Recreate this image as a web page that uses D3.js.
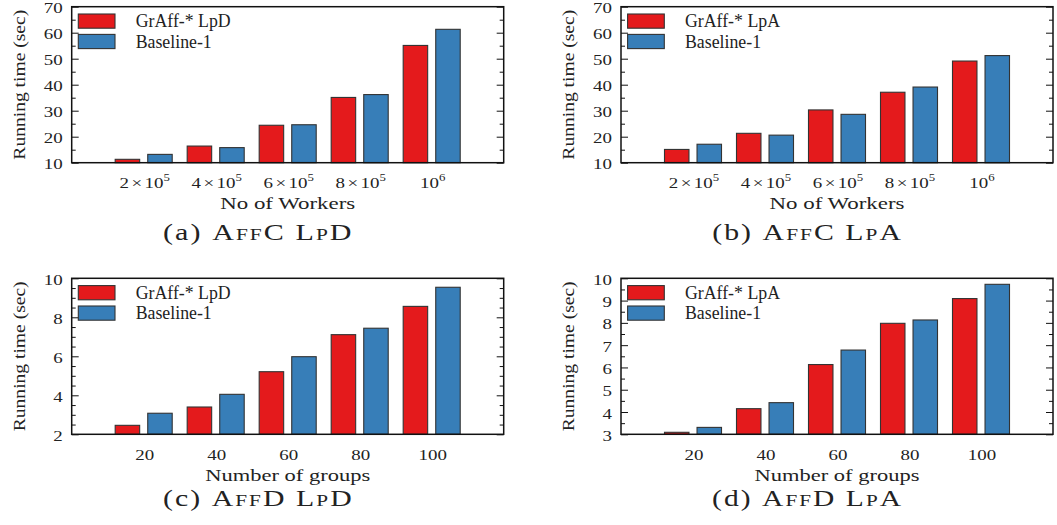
<!DOCTYPE html>
<html>
<head>
<meta charset="utf-8">
<script src="https://cdn.jsdelivr.net/npm/d3@7/dist/d3.min.js"></script>
<style>
body { margin: 0; background: #fff; }
svg { display: block; }
text { font-family: "Liberation Serif", "Times New Roman", serif; fill: #222; }
</style>
</head>
<body>
<div id="fig"></div>
<script>
// x categories (tick labels)
var workerBase = ["2×10", "4×10", "6×10", "8×10", "10"];
var workerExp = ["5", "5", "5", "5", "6"];
var groupLabels = ["20", "40", "60", "80", "100"];

// series values
var affcLpdGraff = [11.3, 16.4, 24.4, 35.1, 55.1];
var affcLpdBase = [13.2, 15.8, 24.6, 36.2, 61.3];
var affcLpaGraff = [15.1, 21.3, 30.3, 37.1, 49.1];
var affcLpaBase = [17.1, 20.6, 28.6, 39.1, 51.2];
var affdLpdGraff = [2.46, 3.40, 5.21, 7.11, 8.56];
var affdLpdBase = [3.08, 4.05, 5.98, 7.44, 9.54];
var affdLpaGraff = [3.09, 4.15, 6.13, 7.98, 9.09];
var affdLpaBase = [3.31, 4.42, 6.78, 8.13, 9.73];

// y tick values
var ticksAffc = [10, 20, 30, 40, 50, 60, 70];
var minorAffc = [15, 25, 35, 45, 55, 65];
var ticksAffdLpd = [2, 4, 6, 8, 10];
var minorAffdLpd = [2.5, 3, 3.5, 4.5, 5, 5.5, 6.5, 7, 7.5, 8.5, 9, 9.5];
var ticksAffdLpa = [3, 4, 5, 6, 7, 8, 9, 10];
var minorAffdLpa = [3.5, 4.5, 5.5, 6.5, 7.5, 8.5, 9.5];

var legendNames = ["GrAff-* LpD", "Baseline-1"];
var legendNamesA = ["GrAff-* LpA", "Baseline-1"];

var w = 1057, h = 525;
var red = "#e41a1c", blue = "#377eb8";
var pw = 432, ph = 156;

var svg = d3.select("#fig").append("svg")
    .attr("width", w)
    .attr("height", h);

// stretch a text horizontally so it fills a given width
function fitText(t, x, y, target, rot) {
    var len = t.node().getBBox().width;
    var s = target / len;
    t.attr("transform", "translate(" + x + "," + y + ")" + (rot ? " rotate(-90)" : "") + " scale(" + s + ",1)");
}

function panel(opt) {
    var g = svg.append("g").attr("transform", "translate(" + opt.left + "," + opt.top + ")");

    var x = d3.scaleLinear().domain([0, 6]).range([0, pw]);
    var y = d3.scaleLinear().domain(opt.ydom).range([ph, 0]);

    // bars
    var half = 0.396, gap = 0.056;
    g.selectAll(".r").data(opt.s1).enter().append("rect")
        .attr("x", function(d, i) { return x(i + 1 - half); })
        .attr("width", function(d, i) { return x(i + 1 - gap) - x(i + 1 - half); })
        .attr("y", function(d) { return y(d); })
        .attr("height", function(d) { return ph - y(d); })
        .style("fill", red).style("stroke", "#333").style("stroke-width", 1.1);
    g.selectAll(".b").data(opt.s2).enter().append("rect")
        .attr("x", function(d, i) { return x(i + 1 + gap); })
        .attr("width", function(d, i) { return x(i + 1 + half) - x(i + 1 + gap); })
        .attr("y", function(d) { return y(d); })
        .attr("height", function(d) { return ph - y(d); })
        .style("fill", blue).style("stroke", "#333").style("stroke-width", 1.1);

    // ticks, inward on left and right
    function ticks(gen, vals, size) {
        var a = g.append("g").call(gen.tickValues(vals).tickSize(-size).tickFormat(""));
        a.select(".domain").remove();
        a.selectAll("line").style("stroke", "#111").style("stroke-width", 1);
        return a;
    }
    ticks(d3.axisLeft(y), opt.major, 7);
    ticks(d3.axisLeft(y), opt.minor, 4);
    ticks(d3.axisRight(y), opt.major, 7).attr("transform", "translate(" + pw + ",0)");
    ticks(d3.axisRight(y), opt.minor, 4).attr("transform", "translate(" + pw + ",0)");

    // frame
    g.append("rect").attr("width", pw).attr("height", ph)
        .style("fill", "none").style("stroke", "#111").style("stroke-width", 1.5);

    // y tick labels
    opt.major.forEach(function(v) {
        g.append("text").text(v)
            .style("font-size", "15.5px").style("text-anchor", "end")
            .attr("transform", "translate(-9," + (y(v) + 6.6) + ") scale(1.22,1)");
    });

    // x tick labels
    opt.xlab.forEach(function(l, i) {
        var t = g.append("text").style("font-size", "15.5px").style("text-anchor", "middle")
            .attr("transform", "translate(" + (x(i + 1) + 1) + "," + (ph + 25.6) + ") scale(1.22,1)");
        if (opt.xexp) {
            var parts = l.split("×");
            if (parts.length > 1) {
                t.append("tspan").text(parts[0]);
                t.append("tspan").attr("dx", 2).text("×");
                t.append("tspan").attr("dx", 2).text(parts[1]);
            } else {
                t.append("tspan").text(l);
            }
            t.append("tspan").attr("dy", -7).style("font-size", "10.5px").text(opt.xexp[i]);
        } else {
            t.text(l);
        }
    });

    // axis titles
    var xt = g.append("text").text(opt.xtitle).style("font-size", "17px").style("text-anchor", "middle");
    fitText(xt, pw / 2, ph + 46.5, opt.xtw, false);
    var yt = g.append("text").text("Running time (sec)").style("font-size", "17px").style("text-anchor", "middle");
    fitText(yt, -47, ph / 2, 150, true);

    // caption
    var ct = g.append("text").style("font-size", "23px").style("text-anchor", "middle")
        .style("letter-spacing", "1.6px");
    ct.append("tspan").text(opt.cap[0] + " ");
    ct.append("tspan").style("font-variant", "small-caps").text(opt.cap[1]);
    fitText(ct, 186.6, opt.capY, 190, false);

    // legend
    var leg = g.selectAll(".legend").data(opt.names).enter().append("g")
        .attr("transform", function(d, i) { return "translate(0," + i * 20.4 + ")"; });
    leg.append("rect")
        .attr("x", 6.6).attr("y", 7.3)
        .attr("width", 36.7).attr("height", 14.2)
        .style("fill", function(d, i) { return i ? blue : red; })
        .style("stroke", "#333").style("stroke-width", 1.1);
    leg.append("text")
        .attr("x", 64).attr("y", 20.8)
        .style("font-size", "17.8px")
        .text(function(d) { return d; });
}

panel({ left: 71.7, top: 6.7, ydom: [10, 70], major: ticksAffc, minor: minorAffc,
    s1: affcLpdGraff, s2: affcLpdBase, xlab: workerBase, xexp: workerExp,
    xtitle: "No of Workers", xtw: 135, cap: ["(a)", "AffC LpD"], capY: 233.5, names: legendNames });
panel({ left: 621, top: 6.7, ydom: [10, 70], major: ticksAffc, minor: minorAffc,
    s1: affcLpaGraff, s2: affcLpaBase, xlab: workerBase, xexp: workerExp,
    xtitle: "No of Workers", xtw: 135, cap: ["(b)", "AffC LpA"], capY: 233.5, names: legendNamesA });
panel({ left: 71.7, top: 278.3, ydom: [2, 10], major: ticksAffdLpd, minor: minorAffdLpd,
    s1: affdLpdGraff, s2: affdLpdBase, xlab: groupLabels, xexp: null,
    xtitle: "Number of groups", xtw: 165, cap: ["(c)", "AffD LpD"], capY: 227.5, names: legendNames });
panel({ left: 621, top: 278.3, ydom: [3, 10], major: ticksAffdLpa, minor: minorAffdLpa,
    s1: affdLpaGraff, s2: affdLpaBase, xlab: groupLabels, xexp: null,
    xtitle: "Number of groups", xtw: 165, cap: ["(d)", "AffD LpA"], capY: 227.5, names: legendNamesA });
</script>
</body>
</html>
